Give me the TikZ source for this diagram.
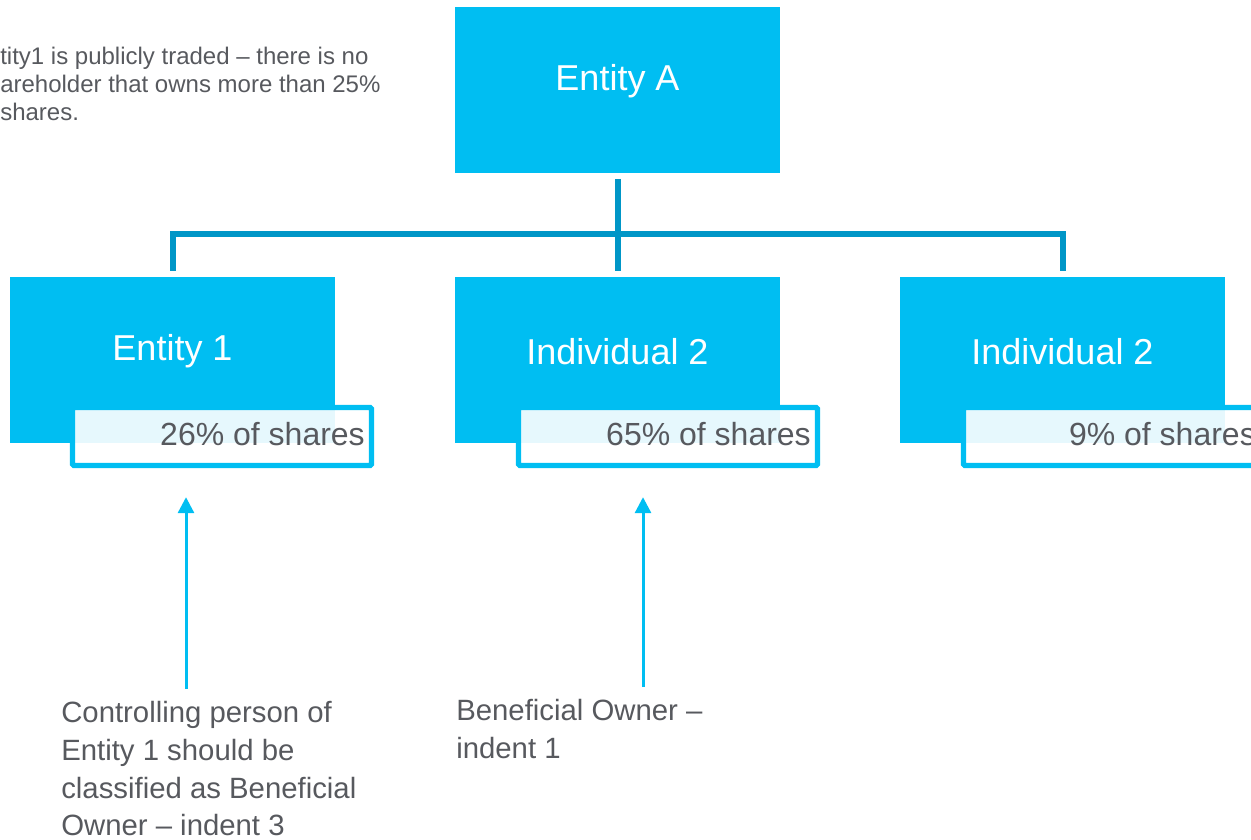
\documentclass[tikz,border=0pt]{standalone}
\usepackage{fontspec}
\setmainfont{Liberation Sans}
\usetikzlibrary{arrows.meta}
\definecolor{boxblue}{RGB}{0,190,242}
\definecolor{linkblue}{RGB}{0,150,199}
\definecolor{notegray}{RGB}{87,89,94}

\begin{document}
\begin{tikzpicture} [
            x=0.75pt, y=-0.75pt,
            holder/.style={rectangle,fill=boxblue,minimum width=243.75pt,minimum height=124.5pt,inner sep=0pt},
            holdertext/.style={text=white,font=\fontsize{27}{32}\selectfont,yshift=6.5pt},
            share/.style={rectangle,draw=boxblue,line width=4pt,fill=white,fill opacity=0.9,rounded corners=1pt,minimum width=224.25pt,minimum height=43.5pt,inner sep=0pt},
            sharetext/.style={text=notegray,opacity=1,font=\fontsize{24}{28}\selectfont,anchor=base east,xshift=-3.5pt,yshift=-7.1pt},
            note/.style={text=notegray,font=\fontsize{22}{28.3}\selectfont,align=left,anchor=north west,inner sep=0pt},
            link/.style={draw=linkblue,line width=4.5pt},
            pointer/.style={draw=boxblue,line width=2.25pt,-{Triangle[width=12pt,length=12pt]}},
        ]
        \useasboundingbox (0,0) rectangle (1251,839);
        % the owned entity on top
        \node[holder,label={[holdertext]center:Entity A}] (entA) at (617.5,89.5) {};
        % the three holders below it
        \foreach \x/\name/\who in {
                172.5/ent1/Entity 1,
                617.5/ind2/Individual 2,
                1062.5/ind3/Individual 2}
            \node[holder,label={[holdertext]center:\who}] (\name) at (\x,360) {};
        % their shares, drawn over the corners
        \foreach \x/\name/\pct in {
                222/share1/26,
                668/share2/65,
                1113/share3/9}
            \node[share,label={[sharetext]east:\pct\% of shares}] (\name) at (\x,436.5) {};
        % ownership lines
        \coordinate (bus) at (617.5,234);
        \draw[link] ([yshift=-4.5pt]entA.south) -- ([yshift=4.5pt]ind2.north);
        \draw[link] ([yshift=4.5pt]ent1.north) |- (bus) -| ([yshift=4.5pt]ind3.north);
        % notes
        \node[note,font=\fontsize{18}{21}\selectfont] (topnote) at (0,47) {tity1 is publicly traded – there is no\\areholder that owns more than 25\%\\shares.};
        \node[note] (note1) at (61,701) {Controlling person of\\Entity 1 should be\\classified as Beneficial\\Owner – indent 3};
        \node[note] (note2) at (456,699) {Beneficial Owner –\\indent 1};
        % arrows from the notes up to the shares
        \coordinate (tip1) at ([xshift=-27pt,yshift=-21.75pt]share1.south);
        \coordinate (tip2) at ([xshift=-18.75pt,yshift=-21.75pt]share2.south);
        \draw[pointer,shorten <=9pt] (note1.north -| tip1) -- (tip1);
        \draw[pointer,shorten <=9pt] (note2.north -| tip2) -- (tip2);
    \end{tikzpicture}
\end{document}
